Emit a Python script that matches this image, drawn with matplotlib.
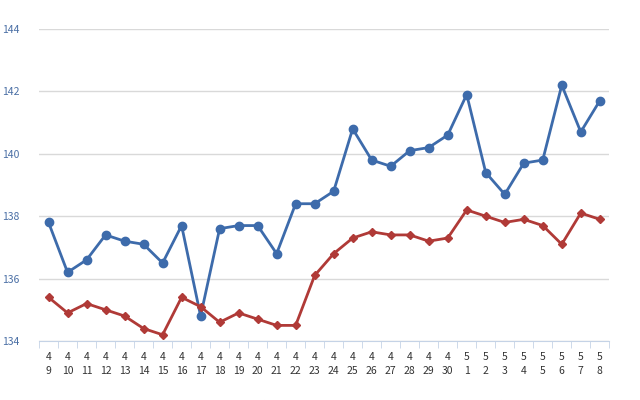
import matplotlib
matplotlib.use("Agg")
import matplotlib.pyplot as plt
import numpy as np

plt.rcParams["font.family"] = ["Noto Sans CJK JP", "DejaVu Sans"]

months = [4]*22 + [5]*8
days = list(range(9, 31)) + list(range(1, 9))
board = [137.8, 136.2, 136.6, 137.4, 137.2, 137.1, 136.5, 137.7, 134.8, 137.6,
         137.7, 137.7, 136.8, 138.4, 138.4, 138.8, 140.8, 139.8, 139.6, 140.1,
         140.2, 140.6, 141.9, 139.4, 138.7, 139.7, 139.8, 142.2, 140.7, 141.7]
actual = [135.4, 134.9, 135.2, 135.0, 134.8, 134.4, 134.2, 135.4, 135.1, 134.6,
          134.9, 134.7, 134.5, 134.5, 136.1, 136.8, 137.3, 137.5, 137.4, 137.4,
          137.2, 137.3, 138.2, 138.0, 137.8, 137.9, 137.7, 137.1, 138.1, 137.9]
labels = [f"{m}\n{d}" for m, d in zip(months, days)]

fig = plt.figure(figsize=(6.4, 4.0), dpi=100)
ax = fig.add_axes([0.061, 0.1475, 0.891, 0.78])
x = np.arange(len(board))
ax.plot(x, board, color="#3d6bab", lw=2, marker="o", ms=6, label="レギュラー看板価格(円/L)")
ax.plot(x, actual, color="#b03a37", lw=2, marker="D", ms=4, label="レギュラー実売価格(円/L)")

ax.set_xlim(-0.5, len(board) - 0.5)
ax.set_ylim(134, 144)
ax.set_yticks([134, 136, 138, 140, 142, 144])
ax.tick_params(axis="y", length=0, labelsize=7.5, labelcolor="#4a6fa5", pad=14)
ax.set_xticks(x)
ax.set_xticklabels(labels, fontsize=7.5, color="#333333", linespacing=1.5)
ax.set_xticks(np.arange(-0.5, len(board)), minor=True)
ax.tick_params(axis="x", which="major", length=0, pad=8)
ax.tick_params(axis="x", which="minor", length=5, color="#c5d3e6")
ax.grid(axis="y", color="#d9d9d9", lw=1)
for s in ["top", "right", "left"]:
    ax.spines[s].set_visible(False)
ax.spines["bottom"].set_color("#c5d3e6")
ax.set_axisbelow(True)

ax.legend(loc="upper center", bbox_to_anchor=(0.5, -0.17), ncol=2, frameon=False,
          fontsize=10, handlelength=2.2, columnspacing=2.5, borderaxespad=0)
fig.savefig("out.png", dpi=100)
